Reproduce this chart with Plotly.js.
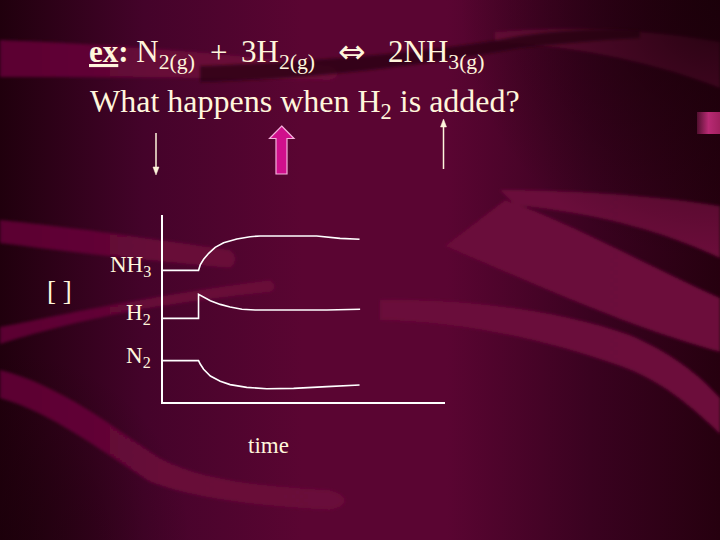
<!DOCTYPE html>
<html>
<head>
<meta charset="utf-8">
<script src="https://cdn.plot.ly/plotly-3.0.1.min.js"></script>
<style>
html,body{margin:0;padding:0;background:#3a0220;}
#wrap{position:relative;width:720px;height:540px;overflow:hidden;}
#bg{position:absolute;left:0;top:0;}
#chart{position:absolute;left:0;top:0;width:720px;height:540px;}
</style>
</head>
<body>
<div id="wrap">
<svg id="bg" width="720" height="540" viewBox="0 0 720 540" xmlns="http://www.w3.org/2000/svg">
  <defs>
    <linearGradient id="base" x1="0" y1="0" x2="720" y2="0" gradientUnits="userSpaceOnUse">
      <stop offset="0" stop-color="#20000d"/>
      <stop offset="0.2" stop-color="#44032a"/>
      <stop offset="0.42" stop-color="#5a0532"/>
      <stop offset="0.62" stop-color="#5a0532"/>
      <stop offset="0.82" stop-color="#3a0220"/>
      <stop offset="1" stop-color="#26000f"/>
    </linearGradient>
    <linearGradient id="band" x1="0" y1="0" x2="720" y2="0" gradientUnits="userSpaceOnUse">
      <stop offset="0" stop-color="#5a0531"/>
      <stop offset="0.25" stop-color="#680739"/>
      <stop offset="1" stop-color="#6c073a"/>
    </linearGradient>
    <radialGradient id="tr" cx="720" cy="0" r="260" gradientUnits="userSpaceOnUse">
      <stop offset="0" stop-color="#1a0009" stop-opacity="0.9"/>
      <stop offset="1" stop-color="#1a0009" stop-opacity="0"/>
    </radialGradient>
    <radialGradient id="bl" cx="0" cy="540" r="190" gradientUnits="userSpaceOnUse">
      <stop offset="0" stop-color="#1a0009" stop-opacity="0.6"/>
      <stop offset="1" stop-color="#1a0009" stop-opacity="0"/>
    </radialGradient>
    <linearGradient id="blob" x1="697" y1="0" x2="720" y2="0" gradientUnits="userSpaceOnUse">
      <stop offset="0" stop-color="#c0307a" stop-opacity="0.3"/>
      <stop offset="0.5" stop-color="#b82a74"/>
      <stop offset="1" stop-color="#a0205e"/>
    </linearGradient>
    <filter id="soft" x="-20%" y="-20%" width="140%" height="140%"><feGaussianBlur stdDeviation="1.6"/></filter>
  </defs>
  <rect x="0" y="0" width="720" height="540" fill="url(#base)"/>
  <rect x="0" y="0" width="720" height="540" fill="url(#bl)"/>
  <g filter="url(#soft)" fill="url(#band)">
    <path d="M0,40 C100,44 220,52 330,66 C340,70 340,78 330,80 C220,78 100,77 0,77 Z"/>
    <path d="M495,32 C560,26 640,28 720,42 L720,88 C660,64 580,46 495,42 Z"/>
    <path d="M0,220 C60,226 120,234 230,250 C238,256 236,264 230,268 C140,260 70,252 0,243 Z"/>
    <path d="M0,327 C60,316 120,300 270,280 C276,284 276,290 270,292 C140,306 70,322 0,344 Z"/>
    <path d="M0,370 C60,385 110,425 160,458 C200,480 260,486 330,490 C350,496 350,506 330,510 C260,506 200,500 150,482 C100,450 50,412 0,398 Z"/>
    <path d="M500,190 C580,190 660,196 720,206 L720,258 C670,235 610,215 515,205 Z"/>
    <path d="M505,200 C570,222 640,262 720,298 L720,352 C640,330 570,300 445,246 Z"/>
    <path d="M380,300 C460,298 560,310 630,335 C670,352 700,375 720,398 L720,434 C690,405 660,380 620,366 C540,338 460,322 380,320 Z"/>
  </g>
  <g filter="url(#soft)" fill="#2a0014" fill-opacity="0.75">
    <path d="M200,66 C300,62 420,54 520,36 C560,30 600,28 640,30 L640,38 C600,40 560,44 520,48 C420,66 300,80 200,82 Z"/>
  </g>
  <rect x="0" y="0" width="720" height="540" fill="url(#tr)"/>
  <rect x="697" y="112" width="23" height="22" fill="url(#blob)"/>
</svg>
<div id="chart"></div>
</div>
<script>
// ---- data ----
const nh3Time = [0, 1.26, 1.32, 1.44, 1.62, 1.85, 2.15, 2.62, 3.09, 3.45, 5.45, 6.28, 6.97];
const nh3Conc = [7.04, 7.04, 7.33, 7.63, 7.95, 8.27, 8.52, 8.72, 8.84, 8.88, 8.88, 8.75, 8.70];
const h2Time  = [0, 1.26, 1.26, 1.44, 1.68, 2.03, 2.38, 2.80, 3.27, 5.81, 6.99];
const h2Conc  = [4.47, 4.47, 5.76, 5.60, 5.42, 5.22, 5.08, 4.96, 4.92, 4.92, 4.96];
const n2Time  = [0, 1.26, 1.32, 1.44, 1.68, 2.03, 2.38, 2.97, 3.68, 4.63, 5.81, 6.97];
const n2Conc  = [2.21, 2.21, 2.03, 1.75, 1.39, 1.11, 0.93, 0.78, 0.71, 0.73, 0.82, 0.91];
const seriesLabels = ['NH<sub>3</sub>', 'H<sub>2</sub>', 'N<sub>2</sub>'];
const seriesStart = [nh3Conc[0], h2Conc[0], n2Conc[0]];
const equationParts = ['<b><u>ex</u>:</b> N<sub>2(g)</sub>', '+', '3H<sub>2(g)</sub>', '\u21D4', '2NH<sub>3(g)</sub>'];
const questionText = 'What happens when H<sub>2</sub> is added?';
const yLabel = '[ ]';
const xLabel = 'time';

// ---- layout geometry (pixels) ----
const L = 163, R = 445, T = 215, B = 402;
const W = R - L, H = B - T;
const xp = px => (px - L) / W;
const yp = py => (B - py) / H;
const poly = pts => 'M' + pts.map(p => xp(p[0]).toFixed(4) + ',' + yp(p[1]).toFixed(4)).join(' L') + ' Z';

const cream = '#fff6dc';
const serif = 'Liberation Serif, Times New Roman, serif';

const lineStyle = {color: '#ffffff', width: 1.6};
const traces = [
  {x: nh3Time, y: nh3Conc, mode: 'lines', line: lineStyle, hoverinfo: 'skip'},
  {x: h2Time,  y: h2Conc,  mode: 'lines', line: lineStyle, hoverinfo: 'skip'},
  {x: n2Time,  y: n2Conc,  mode: 'lines', line: lineStyle, hoverinfo: 'skip'}
];

const seg = (x0, y0, x1, y1) => ({type: 'line', xref: 'paper', yref: 'paper', x0: xp(x0), y0: yp(y0), x1: xp(x1), y1: yp(y1),
  line: {color: cream, width: 1.5}, layer: 'above'});
const head = pts => ({type: 'path', xref: 'paper', yref: 'paper', path: poly(pts), fillcolor: cream, line: {color: cream, width: 0.5}, layer: 'above'});

const shapes = [
  // thin down arrow
  seg(156, 133, 156, 168), head([[153, 167], [159, 167], [156, 175]]),
  // thin up arrow
  seg(443.5, 169, 443.5, 126), head([[440.5, 127], [446.5, 127], [443.5, 119]]),
  // magenta arrow
  {type: 'path', xref: 'paper', yref: 'paper',
   path: poly([[281.7,126],[294,138.5],[287,138.5],[287,174],[276,174],[276,138.5],[269.5,138.5]]),
   fillcolor: '#d0108c', line: {color: '#f6b0dc', width: 1.2}, layer: 'above'}
];

const ann = (text, x, y, size, xa, fam) => ({text: text, xref: 'paper', yref: 'paper', x: xp(x), y: yp(y),
  xanchor: xa || 'left', yanchor: 'middle', showarrow: false, font: {family: fam || serif, size: size, color: cream}});

const annotations = [
  ann(equationParts[0], 87, 54, 31, 'left'),
  ann(equationParts[1], 208, 52, 31, 'left'),
  ann(equationParts[2], 239, 54, 31, 'left'),
  ann(equationParts[3], 352, 51, 33, 'center', 'DejaVu Sans, sans-serif'),
  ann(equationParts[4], 386, 54, 31, 'left'),
  ann(questionText, 88, 103, 32, 'left'),
  ann(yLabel, 59, 291, 27, 'center'),
  ann(xLabel, 268, 445, 23, 'center')
];
// species labels aligned to initial concentrations (data coords)
seriesLabels.forEach((s, i) => {
  annotations.push({text: s, xref: 'paper', yref: 'y', x: xp(153), y: seriesStart[i], yshift: 4,
    xanchor: 'right', yanchor: 'middle', showarrow: false, font: {family: serif, size: 23, color: cream}});
});

const layout = {
  width: 720, height: 540,
  margin: {l: L, r: 720 - R, t: T, b: 540 - B, autoexpand: false},
  paper_bgcolor: 'rgba(0,0,0,0)', plot_bgcolor: 'rgba(0,0,0,0)',
  showlegend: false,
  xaxis: {range: [0, 10], showline: true, linecolor: '#ffffff', linewidth: 1.6, showgrid: false,
          zeroline: false, showticklabels: false, ticks: '', fixedrange: true},
  yaxis: {range: [0, 10], showline: true, linecolor: '#ffffff', linewidth: 1.6, showgrid: false,
          zeroline: false, showticklabels: false, ticks: '', fixedrange: true},
  shapes: shapes,
  annotations: annotations
};

Plotly.newPlot('chart', traces, layout, {displayModeBar: false, staticPlot: true});
</script>
</body>
</html>
